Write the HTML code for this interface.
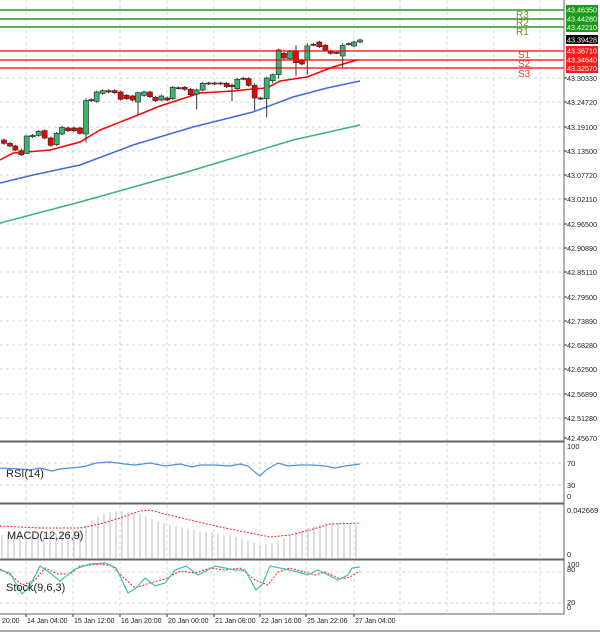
<!DOCTYPE html>
<html><head><meta charset="utf-8"><style>
html,body{margin:0;padding:0;background:#fff;}
svg{display:block;font-family:"Liberation Sans",sans-serif;}
</style></head><body>
<svg id="s" width="600" height="632" xmlns="http://www.w3.org/2000/svg">
<rect width="600" height="632" fill="#fff"/>
<g id="grid" stroke="#d4d4d4" stroke-dasharray="3,3" stroke-width="1"></g>
<polyline fill="none" stroke="#3cb371" stroke-width="1.5" points="0,223 80,202 187,172 293,140 360,125"/>
<polyline fill="none" stroke="#4169e1" stroke-width="1.5" points="0,183 33,175 80,165 133,145 193,127 253,112 293,97 327,88 360,81"/>
<polyline fill="none" stroke="#ff0000" stroke-width="1.5" points="0,160 13,153 27,152 50,150 80,142 100,130 133,117 160,106 200,93 233,91 253,89 267,88 280,81 307,77 333,67 357,60"/>
<g id="candles"></g>
<g stroke-width="1.3">
<line x1="0" y1="10" x2="564" y2="10" stroke="#008000"/>
<line x1="0" y1="19" x2="564" y2="19" stroke="#008000"/>
<line x1="0" y1="27" x2="564" y2="27" stroke="#008000"/>
<line x1="0" y1="51" x2="564" y2="51" stroke="#ff0000"/>
<line x1="0" y1="60" x2="564" y2="60" stroke="#ff0000"/>
<line x1="0" y1="68" x2="564" y2="68" stroke="#ff0000"/>
</g>
<g font-size="10">
<text x="516" y="18" fill="#6b8e23">R3</text>
<text x="516" y="26" fill="#6b8e23">R2</text>
<text x="516" y="35" fill="#6b8e23">R1</text>
<text x="518" y="58" fill="#ff3030">S1</text>
<text x="518" y="67" fill="#ff3030">S2</text>
<text x="518" y="77" fill="#ff3030">S3</text>
</g>
<g fill="none" stroke="#666" stroke-width="1">
<line x1="564" y1="0" x2="564" y2="614"/>
<line x1="0" y1="441.5" x2="564" y2="441.5" stroke-width="2"/>
<line x1="0" y1="503.5" x2="564" y2="503.5" stroke-width="2"/>
<line x1="0" y1="559.5" x2="564" y2="559.5" stroke-width="2"/>
<line x1="0" y1="614" x2="564" y2="614"/>
</g>
<line x1="0" y1="631" x2="600" y2="631" stroke="#aaa" stroke-width="2"/>
<g id="ind"></g>
<g id="axis" font-size="7.5" fill="#222"></g>
<g font-size="7.5" fill="#fff">
<rect x="566" y="5" width="32" height="9" fill="#1a9a1a"/><text x="567" y="12.5" textLength="30" lengthAdjust="spacingAndGlyphs">43.46350</text>
<rect x="566" y="14" width="32" height="9" fill="#1a9a1a"/><text x="567" y="21.5" textLength="30" lengthAdjust="spacingAndGlyphs">43.44280</text>
<rect x="566" y="23" width="32" height="9" fill="#1a9a1a"/><text x="567" y="30" textLength="30" lengthAdjust="spacingAndGlyphs">43.42210</text>
<rect x="566" y="35" width="32" height="9" fill="#000"/><text x="567" y="42.5" textLength="30" lengthAdjust="spacingAndGlyphs">43.39428</text>
<rect x="566" y="46" width="32" height="9" fill="#ff1a1a"/><text x="567" y="53.5" textLength="30" lengthAdjust="spacingAndGlyphs">43.36710</text>
<rect x="566" y="55" width="32" height="9" fill="#ff1a1a"/><text x="567" y="62.5" textLength="30" lengthAdjust="spacingAndGlyphs">43.34640</text>
<rect x="566" y="64" width="32" height="9" fill="#ff1a1a"/><text x="567" y="71" textLength="30" lengthAdjust="spacingAndGlyphs">43.32570</text>
</g>
<g font-size="11" fill="#222">
<text x="6" y="477">RSI(14)</text>
<text x="7" y="539">MACD(12,26,9)</text>
<text x="6" y="591">Stock(9,6,3)</text>
</g>
</svg>
<script>
var NS="http://www.w3.org/2000/svg";
function el(p,t,a){var e=document.createElementNS(NS,t);for(var k in a)e.setAttribute(k,a[k]);document.getElementById(p).appendChild(e);return e;}
var vx=[26,73,120,167,214,260,306,354,400,447,494,540];
var panes=[[0,441],[443,503],[505,559],[561,614]];
panes.forEach(function(p){vx.forEach(function(x){el("grid","line",{x1:x,y1:p[0],x2:x,y2:p[1]});});});
var pl=[["43.30330",78],["43.24720",102],["43.19100",127],["43.13500",151],["43.07720",175],["43.02110",199],["42.96500",224],["42.90890",248],["42.85110",272],["42.79500",297],["42.73890",321],["42.68280",345],["42.62500",369],["42.56890",394],["42.51280",418],["42.45670",438]];
pl.forEach(function(p){if(p[1]<436)el("grid","line",{x1:0,y1:p[1],x2:564,y2:p[1]});var t=el("axis","text",{x:567,y:p[1]+3,textLength:30,lengthAdjust:"spacingAndGlyphs"});t.textContent=p[0];el("axis","line",{x1:564,y1:p[1],x2:567,y2:p[1],stroke:"#333"});});
[[463],[485]].forEach(function(a){el("grid","line",{x1:0,y1:a[0],x2:564,y2:a[0]});});
[[572],[603]].forEach(function(a){el("grid","line",{x1:0,y1:a[0],x2:564,y2:a[0]});});
[["100",449],["70",466],["30",488],["0",499],["0.042669",513],["0",557],["100",567],["80",572],["20",605],["0",610]].forEach(function(a){var t=el("axis","text",{x:567,y:a[1]});t.textContent=a[0];});
var dl=[["20:00",2],["14 Jan 04:00",27],["15 Jan 12:00",74],["16 Jan 20:00",121],["20 Jan 00:00",168],["21 Jan 08:00",215],["22 Jan 16:00",261],["25 Jan 22:06",307],["27 Jan 04:00",355]];
dl.forEach(function(d){var t=el("axis","text",{x:d[1],y:623,"font-size":"7"});t.textContent=d[0];if(d[1]>10)el("axis","line",{x1:d[1]-1,y1:614,x2:d[1]-1,y2:617,stroke:"#333"});});
var C=[[12,330,340,0],[30,340,348,0],[46,348,360,0],[64,362,374,0],[80,318,370,1],[98,316,320,1],[116,304,316,1],[134,302,324,0],[152,324,346,0],[170,310,344,1],[186,292,312,1],[204,294,302,0],[222,294,302,0],[240,294,310,0],[258,212,312,1],[274,209,212,0],[290,186,214,1],[308,182,190,1],[326,182,186,0],[344,182,188,0],[362,186,208,0],[380,196,206,0],[398,198,210,0],[414,188,216,1],[432,186,196,1],[450,186,200,0],[466,202,212,0],[484,198,210,1],[502,204,210,0],[518,172,206,1],[536,173,175,0],[554,172,178,0],[572,178,194,0],[590,180,192,1],[608,160,180,1],[626,159,161,0],[644,159,161,0],[662,159,161,0],[680,160,170,0],[696,166,170,0],[712,148,176,1],[730,145,147,0],[746,146,166,0],[764,166,204,0],[782,204,206,0],[800,144,206,1],[818,134,152,1],[836,60,134,1],[852,70,84,0],[870,64,86,1],[888,62,98,0],[906,90,102,0],[922,48,90,1],[940,43,45,0],[958,36,50,0],[976,46,60,0],[992,64,70,0],[1010,67,69,0],[1028,46,78,1],[1046,41,43,0],[1062,36,48,1],[1080,30,36,1]];
var wick={64:[356,378],80:[316,372],258:[205,338],414:[186,254],590:[176,238],696:[160,214],764:[160,242],800:[140,262],818:[130,160],836:[56,146],888:[46,138],922:[40,134],1028:[40,112]};
C.forEach(function(c){var x=c[0]/3,y1=c[1]/3+30,y2=c[2]/3+30;var w=wick[c[0]]||[c[1]-4,c[2]+4];
el("candles","line",{x1:x,y1:w[0]/3+30,x2:x,y2:w[1]/3+30,stroke:"#333","stroke-width":1});
el("candles","rect",{x:x-2.5,y:y1,width:5,height:Math.max(y2-y1,1),fill:c[3]?"#3cb371":"#e00",stroke:"#333","stroke-width":0.7});});
var rsi=[[0,468],[20,469],[30,470],[40,468],[52,471],[60,469],[80,467],[86,466],[96,463],[110,462],[125,464],[135,465],[150,463],[165,466],[180,464],[192,467],[200,465],[215,465],[230,466],[240,464],[248,466],[256,473],[260,476],[266,470],[278,463],[288,466],[300,465],[312,465],[325,466],[335,468],[345,466],[360,464]];
el("ind","polyline",{points:rsi.map(function(p){return p.join(",")}).join(" "),fill:"none",stroke:"#4a90e2","stroke-width":1.2});
var mh=[[0,535],[40,535],[80,530],[90,522],[100,515],[110,512],[120,511],[130,512],[140,514],[150,518],[160,522],[170,525],[180,527],[190,529],[200,531],[210,532],[220,534],[230,535],[240,538],[250,541],[260,545],[270,544],[280,540],[290,535],[300,531],[310,527],[320,524],[330,522],[340,524],[350,525],[360,525]];
function interp(a,x){for(var i=0;i<a.length-1;i++){if(x>=a[i][0]&&x<=a[i+1][0]){var t=(x-a[i][0])/(a[i+1][0]-a[i][0]);return a[i][1]+t*(a[i+1][1]-a[i][1]);}}return a[a.length-1][1];}
for(var x=2;x<=360;x+=6){el("ind","line",{x1:x,y1:558,x2:x,y2:interp(mh,x),stroke:"#c8c8c8","stroke-width":1.2});}
var ms=[[0,526],[40,528],[80,528],[100,524],[120,518],[140,511],[150,510],[165,514],[190,520],[220,527],[250,533],[270,537],[290,535],[310,530],[330,524],[360,523]];
el("ind","polyline",{points:ms.map(function(p){return p.join(",")}).join(" "),fill:"none",stroke:"#ff2020","stroke-width":1,"stroke-dasharray":"2,1.5"});
var sk=[[0,570],[10,573],[22,594],[30,586],[40,566],[50,573],[60,581],[75,569],[90,564],[105,563],[116,568],[128,593],[135,589],[145,578],[155,586],[165,583],[175,570],[186,566],[198,575],[215,566],[235,570],[245,570],[256,590],[262,585],[270,566],[280,568],[298,572],[308,575],[318,570],[330,576],[338,580],[348,575],[352,568],[360,567]];
var sd=[[0,569],[12,576],[22,585],[35,580],[45,568],[58,574],[70,574],[80,566],[100,564],[112,566],[124,578],[135,588],[150,583],[165,579],[180,571],[195,573],[210,568],[225,570],[240,568],[255,580],[268,585],[278,572],[290,568],[305,572],[315,575],[325,572],[340,579],[350,577],[360,571]];
el("ind","polyline",{points:sd.map(function(p){return p.join(",")}).join(" "),fill:"none",stroke:"#ff2020","stroke-width":1,"stroke-dasharray":"2,1.5"});
el("ind","polyline",{points:sk.map(function(p){return p.join(",")}).join(" "),fill:"none",stroke:"#40c0b0","stroke-width":1.2});
</script>
</body></html>
